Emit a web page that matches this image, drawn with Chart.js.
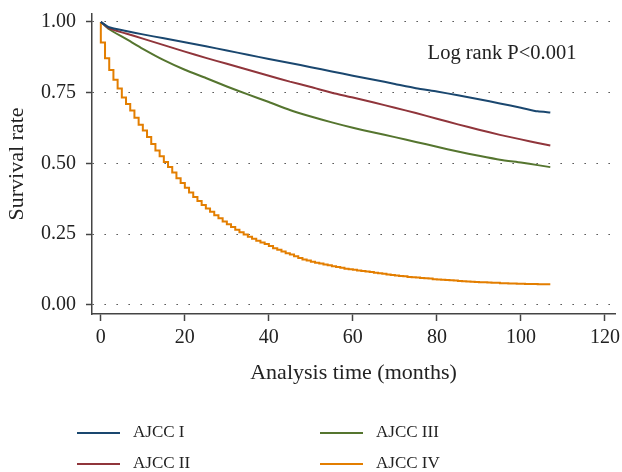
<!DOCTYPE html>
<html>
<head>
<meta charset="utf-8">
<script src="https://cdn.jsdelivr.net/npm/chart.js@4.4.0/dist/chart.umd.min.js"></script>
<style>
  html, body { margin: 0; padding: 0; background: #fff; }
</style>
</head>
<body>
<canvas id="kmChart" width="622" height="472"></canvas>
<script>
const timesSmooth = [0, 2, 6, 10, 15, 20, 25, 30, 35, 40, 45, 50, 55, 60, 65, 70, 75, 80, 85, 90, 95, 100, 104, 107];

const survI   = [1, 0.981, 0.968, 0.956, 0.942, 0.928, 0.914, 0.899, 0.884, 0.869, 0.855, 0.840, 0.825, 0.810, 0.796, 0.781, 0.766, 0.754, 0.741, 0.727, 0.712, 0.697, 0.684, 0.680];
const survII  = [1, 0.977, 0.959, 0.941, 0.918, 0.895, 0.873, 0.852, 0.831, 0.810, 0.789, 0.770, 0.750, 0.733, 0.715, 0.697, 0.678, 0.658, 0.638, 0.619, 0.601, 0.585, 0.572, 0.563];
const survIII = [1, 0.974, 0.940, 0.905, 0.865, 0.831, 0.802, 0.772, 0.744, 0.717, 0.689, 0.666, 0.645, 0.626, 0.609, 0.593, 0.576, 0.559, 0.542, 0.527, 0.513, 0.503, 0.494, 0.487];

// stage IV, one value per month (month = index)
const survIV = [
  1, 0.927, 0.872, 0.830, 0.796, 0.765, 0.733, 0.710, 0.687, 0.661,
  0.637, 0.616, 0.593, 0.569, 0.546, 0.525, 0.505, 0.487, 0.468, 0.448,
  0.431, 0.414, 0.397, 0.381, 0.367, 0.353, 0.341, 0.329, 0.317, 0.306,
  0.295, 0.285, 0.275, 0.266, 0.257, 0.249, 0.241, 0.234, 0.227, 0.221,
  0.215, 0.208, 0.200, 0.195, 0.189, 0.183, 0.178, 0.172, 0.166, 0.161,
  0.157, 0.153, 0.149, 0.146, 0.143, 0.140, 0.137, 0.134, 0.131, 0.128,
  0.126, 0.124, 0.122, 0.120, 0.118, 0.116, 0.114, 0.112, 0.110, 0.108,
  0.106, 0.104, 0.102, 0.101, 0.099, 0.098, 0.097, 0.095, 0.094, 0.093,
  0.091, 0.090, 0.089, 0.088, 0.087, 0.086, 0.085, 0.084, 0.083, 0.082,
  0.081, 0.080, 0.080, 0.079, 0.078, 0.078, 0.077, 0.077, 0.076, 0.076,
  0.075, 0.075, 0.074, 0.074, 0.074, 0.073, 0.073, 0.073
];

const stageLabels = ['AJCC I', 'AJCC II', 'AJCC III', 'AJCC IV'];
const stageColors = ['#1a476f', '#90353b', '#55752f', '#e37e00'];
const xTicks = [0, 20, 40, 60, 80, 100, 120];
const yTicks = [0, 0.25, 0.5, 0.75, 1];
const annotationText = 'Log rank P<0.001';

const serif = '"Liberation Serif", "DejaVu Serif", serif';

function pts(xs, ys) {
  return ys.map((v, i) => ({ x: xs[i], y: v }));
}

const legendPlugin = {
  id: 'gridLegend',
  afterDraw(chart) {
    const ctx = chart.ctx;
    const cols = [77, 320];
    const rows = [433, 464];
    ctx.save();
    ctx.font = '17px ' + serif;
    ctx.textBaseline = 'middle';
    ctx.fillStyle = '#222';
    chart.data.datasets.forEach((ds, i) => {
      const x = cols[Math.floor(i / 2)];
      const y = rows[i % 2];
      ctx.strokeStyle = ds.borderColor;
      ctx.lineWidth = 2;
      ctx.beginPath();
      ctx.moveTo(x, y);
      ctx.lineTo(x + 43, y);
      ctx.stroke();
      ctx.fillText(ds.label, x + 56, y);
    });
    ctx.restore();
  }
};

const notePlugin = {
  id: 'note',
  afterDatasetsDraw(chart) {
    const ctx = chart.ctx;
    ctx.save();
    ctx.font = '20.5px ' + serif;
    ctx.fillStyle = '#222';
    ctx.textAlign = 'center';
    ctx.textBaseline = 'middle';
    ctx.fillText(annotationText, chart.scales.x.getPixelForValue(95.5), chart.scales.y.getPixelForValue(0.887));
    ctx.restore();
  }
};

// drop the label-driven padding so the plot box keeps its own margins
function noEdgePadding(s) {
  s.paddingTop = 0;
  s.paddingBottom = 0;
  s.paddingLeft = 0;
  s.paddingRight = 0;
}

const smoothSeries = [survI, survII, survIII];
const datasets = smoothSeries.map((s, i) => ({
  label: stageLabels[i],
  data: pts(timesSmooth, s),
  borderColor: stageColors[i],
  borderWidth: 2,
  pointRadius: 0,
  tension: 0.2,
  fill: false
}));
datasets.push({
  label: stageLabels[3],
  data: survIV.map((v, m) => ({ x: m, y: v })),
  borderColor: stageColors[3],
  borderWidth: 2,
  pointRadius: 0,
  stepped: 'after',
  fill: false
});

new Chart(document.getElementById('kmChart'), {
  type: 'line',
  data: { datasets: datasets },
  options: {
    responsive: false,
    animation: false,
    layout: { padding: { top: 14, right: 7, bottom: 84, left: 0 } },
    plugins: {
      legend: { display: false },
      tooltip: { enabled: false }
    },
    scales: {
      x: {
        type: 'linear',
        min: -2.1,
        max: 122.4,
        afterBuildTicks: (s) => { s.ticks = xTicks.map(v => ({ value: v })); },
        afterFit: (s) => { s.height = 74; noEdgePadding(s); },
        grid: { drawOnChartArea: false, drawTicks: true, tickLength: 7, tickColor: '#444', tickWidth: 1.5 },
        border: { display: true, color: '#444', width: 1.5 },
        ticks: { font: { family: serif, size: 20 }, color: '#222', padding: 5, maxRotation: 0 },
        title: { display: true, text: 'Analysis time (months)', font: { family: serif, size: 22 }, color: '#222', padding: { top: 0, bottom: 2 } }
      },
      y: {
        min: -0.032,
        max: 1.028,
        afterBuildTicks: (s) => { s.ticks = yTicks.map(v => ({ value: v })); },
        afterFit: (s) => { s.width = 92; noEdgePadding(s); },
        grid: { color: '#333', lineWidth: 1, drawTicks: true, tickLength: 6, tickColor: '#444', tickWidth: 1.5, tickBorderDash: [] },
        border: { display: true, color: '#444', width: 1.5, dash: [1.3, 10.7] },
        ticks: { font: { family: serif, size: 20 }, color: '#222', padding: 10, callback: (v) => v.toFixed(2) },
        title: { display: true, text: 'Survival rate', font: { family: serif, size: 22 }, color: '#222', padding: { top: 4, bottom: 0 } }
      }
    }
  },
  plugins: [notePlugin, legendPlugin]
});
</script>
</body>
</html>
